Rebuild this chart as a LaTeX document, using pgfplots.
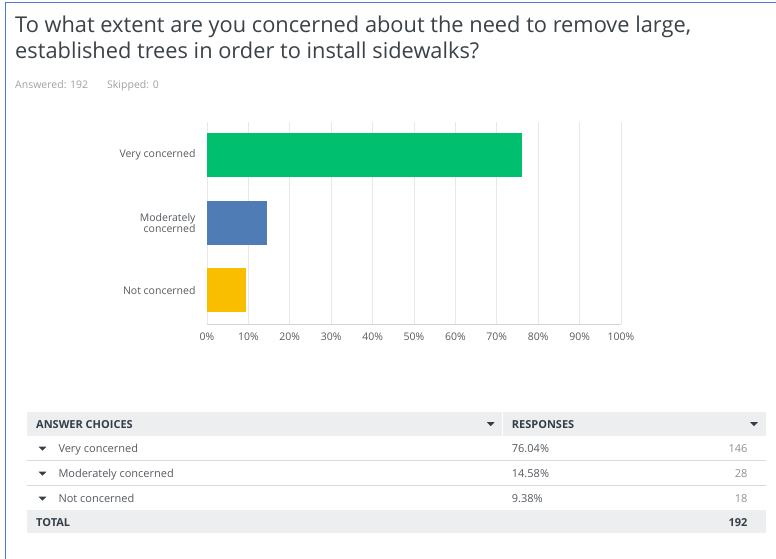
\documentclass[border=0pt]{standalone}
\usepackage{pgfplots}
\pgfplotsset{compat=1.18}
\usepackage{fontspec}
\setmainfont{Open Sans}

\definecolor{smgreen}{HTML}{00BF6F}
\definecolor{smblue}{HTML}{507CB6}
\definecolor{smyellow}{HTML}{F9BE00}
\definecolor{gridgray}{HTML}{E8E8E8}
\definecolor{axisgray}{HTML}{D6D6D6}
\definecolor{textgray}{HTML}{555B61}
\definecolor{titlegray}{HTML}{3B4248}
\definecolor{lightgray}{HTML}{9DA2A6}
\definecolor{countgray}{HTML}{8C9196}
\definecolor{bandgray}{HTML}{EDEEEF}
\definecolor{rulegray}{HTML}{D9DADB}
\definecolor{headgray}{HTML}{333E48}
\definecolor{frameblue}{HTML}{4A7BD0}

\newcommand{\tri}[2]{\fill[headgray] (#1-3.8,#2+1.8) -- (#1+3.8,#2+1.8) -- (#1,#2-2.2) -- cycle;}

\begin{document}
\begin{tikzpicture}[x=1pt,y=1pt]
\fill[white] (0,0) rectangle (776,-559);
\path[use as bounding box] (0,0) rectangle (776,-559);
% frame
\draw[frameblue, line width=1.8pt] (5.5,-559) -- (5.5,-2.5) -- (776,-2.5);

% title and counts
\node[anchor=base west, inner sep=0, text=titlegray, font=\fontsize{21.8}{26}\selectfont] at (15,-33) {To what extent are you concerned about the need to remove large,};
\node[anchor=base west, inner sep=0, text=titlegray, font=\fontsize{21.8}{26}\selectfont] at (15,-59) {established trees in order to install sidewalks?};
\node[anchor=base west, inner sep=0, text=lightgray, font=\fontsize{10.5}{12}\selectfont] at (15,-89) {Answered: 192};
\node[anchor=base west, inner sep=0, text=lightgray, font=\fontsize{10.5}{12}\selectfont] at (107,-89) {Skipped: 0};

\begin{axis}[
    at={(207pt,-324.3pt)}, anchor=south west,
    scale only axis,
    width=414pt, height=202.6pt,
    xmin=0, xmax=100,
    ymin=-0.498, ymax=2.486,
    axis x line*=bottom, axis y line*=left,
    x axis line style={axisgray, line width=0.8pt},
    y axis line style={gridgray, line width=0.8pt},
    xmajorgrids, grid style={gridgray, line width=0.8pt},
    major tick length=0pt,
    xtick={0,10,...,100},
    xticklabels={0\%,10\%,20\%,30\%,40\%,50\%,60\%,70\%,80\%,90\%,100\%},
    ytick={0,1,2},
    yticklabels={Not concerned,{Moderately\\concerned},Very concerned},
    xticklabel style={font=\fontsize{10.5}{12}\selectfont, text=textgray, yshift=-5pt},
    yticklabel style={font=\fontsize{10.5}{11}\selectfont, text=textgray, align=right, xshift=-8pt},
]
\addplot[xbar, bar width=44pt, fill=smgreen, draw=none] coordinates {(76.04,2)};
\addplot[xbar, bar width=44pt, fill=smblue, draw=none] coordinates {(14.58,1)};
\addplot[xbar, bar width=44pt, fill=smyellow, draw=none] coordinates {(9.38,0)};
\end{axis}

% table
\fill[bandgray] (26.7,-411.7) rectangle (765.7,-435.7);
\draw[white, line width=1.5pt] (502.3,-411.7) -- (502.3,-435.7);
\fill[bandgray] (26.7,-510) rectangle (765.7,-532.7);
\draw[rulegray, line width=0.9pt] (26.7,-460.3) -- (765.7,-460.3);
\draw[rulegray, line width=0.9pt] (26.7,-485.3) -- (765.7,-485.3);

\node[anchor=base west, inner sep=0, text=headgray, font=\bfseries\fontsize{11}{12}\selectfont] at (36,-428) {ANSWER CHOICES};
\node[anchor=base west, inner sep=0, text=headgray, font=\bfseries\fontsize{11}{12}\selectfont] at (511.7,-428) {RESPONSES};
\tri{490.7}{-424}
\tri{754}{-424}

\tri{42.5}{-448.5}
\tri{42.5}{-473.5}
\tri{42.5}{-498.5}
\node[anchor=base west, inner sep=0, text=textgray, font=\fontsize{11}{12}\selectfont] at (58.3,-452.3) {Very concerned};
\node[anchor=base west, inner sep=0, text=textgray, font=\fontsize{11}{12}\selectfont] at (58.3,-477.3) {Moderately concerned};
\node[anchor=base west, inner sep=0, text=textgray, font=\fontsize{11}{12}\selectfont] at (58.3,-502.3) {Not concerned};

\node[anchor=base west, inner sep=0, text=textgray, font=\fontsize{11}{12}\selectfont] at (511.7,-452.3) {76.04\%};
\node[anchor=base west, inner sep=0, text=textgray, font=\fontsize{11}{12}\selectfont] at (511.7,-477.3) {14.58\%};
\node[anchor=base west, inner sep=0, text=textgray, font=\fontsize{11}{12}\selectfont] at (511.7,-502.3) {9.38\%};

\node[anchor=base east, inner sep=0, text=countgray, font=\fontsize{11}{12}\selectfont] at (747.7,-452.3) {146};
\node[anchor=base east, inner sep=0, text=countgray, font=\fontsize{11}{12}\selectfont] at (747.7,-477.3) {28};
\node[anchor=base east, inner sep=0, text=countgray, font=\fontsize{11}{12}\selectfont] at (747.7,-502.3) {18};

\node[anchor=base west, inner sep=0, text=headgray, font=\bfseries\fontsize{11}{12}\selectfont] at (36,-526) {TOTAL};
\node[anchor=base east, inner sep=0, text=headgray, font=\bfseries\fontsize{11}{12}\selectfont] at (747.7,-526) {192};
\end{tikzpicture}
\end{document}
